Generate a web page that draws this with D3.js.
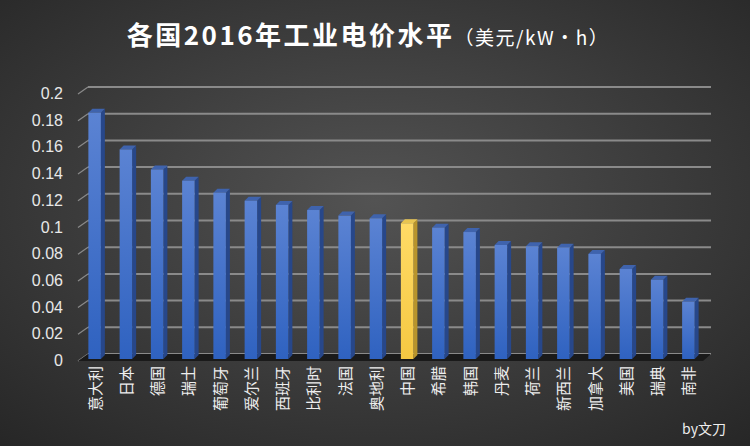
<!DOCTYPE html><html><head><meta charset="utf-8">
<script src="https://cdn.jsdelivr.net/npm/d3@7"></script>
<style>body{margin:0;background:#333}svg{display:block}</style></head><body>
<svg id="c" width="750" height="446"></svg>
<script>
const categories=["意大利","日本","德国","瑞士","葡萄牙","爱尔兰","西班牙","比利时","法国","奥地利","中国","希腊","韩国","丹麦","荷兰","新西兰","加拿大","美国","瑞典","南非"];
const values=[0.1845,0.157,0.142,0.1336,0.1246,0.1186,0.1154,0.1116,0.1074,0.1054,0.1017,0.0984,0.0951,0.0854,0.0844,0.0834,0.0787,0.0674,0.0594,0.0429];
const ticks=[0,0.02,0.04,0.06,0.08,0.1,0.12,0.14,0.16,0.18,0.2];
const highlight="中国";
const svg=d3.select("#c");
const defs=svg.append("defs");
const rg=defs.append("radialGradient").attr("id","bg").attr("cx","50%").attr("cy","45%").attr("r","75%");
rg.append("stop").attr("offset","0%").attr("stop-color","#535353");
rg.append("stop").attr("offset","100%").attr("stop-color","#262626");
const bg=defs.append("linearGradient").attr("id","bar").attr("x1",0).attr("y1",0).attr("x2",0).attr("y2",1);
bg.append("stop").attr("offset","0%").attr("stop-color","#5b83d3");
bg.append("stop").attr("offset","100%").attr("stop-color","#2f62c0");
const yg=defs.append("linearGradient").attr("id","ybar").attr("x1",0).attr("y1",0).attr("x2",0).attr("y2",1);
yg.append("stop").attr("offset","0%").attr("stop-color","#ffdb66");
yg.append("stop").attr("offset","100%").attr("stop-color","#f5c842");
svg.append("rect").attr("width",750).attr("height",446).attr("fill","url(#bg)");
const dx=4,dy=-4;
const y=d3.scaleLinear().domain([0,0.2]).range([359,92]);
const x=d3.scaleBand().domain(categories).range([79,704]).paddingInner(0.6).paddingOuter(0.3);
const g=svg.append("g");
ticks.forEach(t=>{
  g.append("line").attr("x1",84+dx).attr("x2",711).attr("y1",y(t)+dy-1).attr("y2",y(t)+dy-1).attr("stroke","#8a8a8a").attr("stroke-width",2);
  g.append("line").attr("x1",78).attr("x2",84+dx).attr("y1",y(t)+2).attr("y2",y(t)+dy-1).attr("stroke","#8a8a8a").attr("stroke-width",1.2);
  g.append("text").attr("x",63).attr("y",y(t)+7).attr("text-anchor","end").attr("fill","#e8e8e8").attr("font-family","Liberation Sans, Arial").attr("font-size",16).text(t);
});
svg.append("polygon").attr("points",`78,${y(0)+2} ${84+dx},${y(0)+dy-1} 711,${y(0)+dy-1} 703,${y(0)+2}`).attr("fill","#1a1a1a");
const bars=svg.append("g").selectAll("g").data(categories).join("g");
bars.each(function(c,i){
  const s=d3.select(this),x0=x(c),w=x.bandwidth(),y0=y(values[i]),yb=y(0),hl=c===highlight;
  s.append("polygon").attr("points",`${x0+w},${y0} ${x0+w+dx},${y0+dy} ${x0+w+dx},${yb+dy} ${x0+w},${yb}`).attr("fill",hl?"#b8942c":"#27478a");
  s.append("polygon").attr("points",`${x0},${y0} ${x0+dx},${y0+dy} ${x0+w+dx},${y0+dy} ${x0+w},${y0}`).attr("fill",hl?"#e8c550":"#3f63ad");
  s.append("rect").attr("x",x0).attr("y",y0).attr("width",w).attr("height",yb-y0).attr("fill",hl?"url(#ybar)":"url(#bar)");
  s.append("text").attr("transform",`translate(${x0+w/2+6},366) rotate(-90)`).attr("text-anchor","end").attr("fill","#eee").attr("font-family","Noto Sans CJK SC").attr("font-size",15).text(c);
});
const t=svg.append("text").attr("x",368).attr("y",45).attr("text-anchor","middle").attr("fill","#fff").attr("font-family","Noto Sans CJK SC").attr("font-weight","bold").attr("letter-spacing",2.5);
t.append("tspan").attr("font-size",26).text("各国2016年工业电价水平");
t.append("tspan").attr("font-size",19).attr("font-weight","normal").attr("letter-spacing",1.5).text("（美元/kW·h）");
svg.append("text").attr("x",726).attr("y",434).attr("text-anchor","end").attr("fill","#eee").attr("font-family","Noto Sans CJK SC").attr("font-size",14).text("by文刀");
</script></body></html>
